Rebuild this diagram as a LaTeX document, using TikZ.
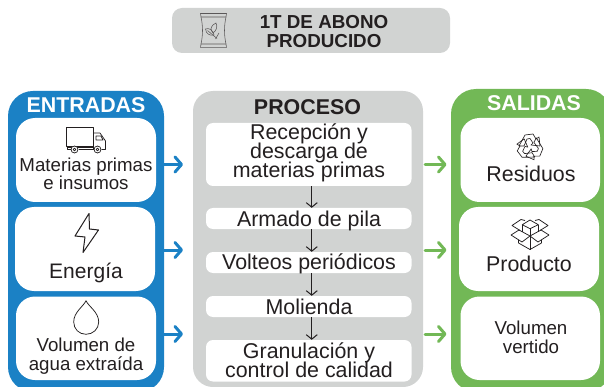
\documentclass[tikz,border=0pt]{standalone}
\usepackage{fontspec}
\setmainfont{Liberation Sans}
\usetikzlibrary{arrows.meta,fit}
\definecolor{ablue}{HTML}{1B81C5}
\definecolor{agreen}{HTML}{72B856}
\definecolor{agray}{HTML}{D1D3D2}
\definecolor{ink}{HTML}{231F20}
\newcommand\tightlines{\setlength{\lineskiplimit}{-20pt}}
\tikzset{
  x=1pt,y=-1pt,
  panelbox/.style={inner sep=0pt,draw=none,rounded corners=#1},
  whitebox/.style={inner sep=0pt,draw=none,fill=white,rounded corners=#1},
  big/.style={anchor=base,align=center,text=ink,inner sep=0pt,font={\tightlines\fontsize{21.4}{19}\selectfont}},
  mid/.style={anchor=base,align=center,text=ink,inner sep=0pt,font={\tightlines\fontsize{18.7}{18.5}\selectfont}},
  headw/.style={anchor=base,align=center,inner sep=0pt,font=\bfseries\fontsize{21.4}{20}\selectfont},
  topt/.style={anchor=base,align=center,text=ink,inner sep=0pt,font={\tightlines\bfseries\fontsize{18.8}{19}\selectfont}},
  blockarrow/.style={line width=3pt,line cap=round,-{Straight Barb[length=6.5pt,width=15pt,line width=3pt,round]}},
  steparrow/.style={line width=1pt,ink,-{Straight Barb[length=4.5pt,width=11pt,line width=1pt]}},
  icon/.style={draw=ink,line width=.75pt,line join=round},
}
\begin{document}
\begin{tikzpicture}
\useasboundingbox (0,0) rectangle (604,387);
\clip (0,0) rectangle (604,387);
% top banner
\node[panelbox=10pt,fill=agray,fit={(172,8)(450,53)}] (banner) {};
\node[topt] (bannertext) at (324,48) {1T DE ABONO\\PRODUCIDO};
% panels
\node[panelbox=25pt,fill=ablue,fit={(8,91)(164,392)}] (entradas) {};
\node[panelbox=20pt,fill=agray,fit={(193,91)(423,387)}] (proceso) {};
\node[panelbox=25pt,fill=agreen,fit={(451,89)(611,392)}] (salidas) {};
\node[headw,text=white] (enttitle) at (86,113) {ENTRADAS};
\node[headw,text=ink] (protitle) at (307.5,115) {PROCESO};
\node[headw,text=white] (saltitle) at (534,111) {SALIDAS};
% input boxes
\node[whitebox=19pt,fit={(16,118)(156,202)}] (in1) {};
\node[whitebox=19pt,fit={(15,207)(155,291)}] (in2) {};
\node[whitebox=19pt,fit={(16,296.5)(156,380)}] (in3) {};
\node[mid] (in1t) at (86,190) {Materias primas\\e insumos};
\node[big,font=\fontsize{21}{19}\selectfont] (in2t) at (86,278) {Energía};
\node[mid] (in3t) at (86,370) {Volumen de\\agua extraída};
% output boxes
\node[whitebox=19pt,fit={(460.5,118)(600,202)}] (out1) {};
\node[whitebox=19pt,fit={(459,207)(599,291)}] (out2) {};
\node[whitebox=19pt,fit={(460.5,296.5)(600,380)}] (out3) {};
\node[big] (out1t) at (531,182) {Residuos};
\node[big] (out2t) at (529,271) {Producto};
\node[mid] (out3t) at (531,353) {Volumen\\vertido};
% process boxes
\node[whitebox=7pt,fit={(206,123)(411.5,186)}] (p1) {};
\node[whitebox=7pt,fit={(206,208)(411.5,229)}] (p2) {};
\node[whitebox=7pt,fit={(206,252)(411.5,273)}] (p3) {};
\node[whitebox=7pt,fit={(206,296)(411.5,317)}] (p4) {};
\node[whitebox=7pt,fit={(206,340)(411.5,381.5)}] (p5) {};
\node[big] (p1t) at (309,178) {Recepción y\\descarga de\\materias primas};
\node[big] (p2t) at (309,226) {Armado de pila};
\node[big] (p3t) at (309,269) {Volteos periódicos};
\node[big] (p4t) at (309,314) {Molienda};
\node[big] (p5t) at (309,377) {Granulación y\\control de calidad};
% step arrows
\draw[steparrow] ([xshift=3pt]p1.south) -- ([xshift=3pt]p2.north);
\draw[steparrow] ([xshift=3pt]p2.south) -- ([xshift=3pt]p3.north);
\draw[steparrow] ([xshift=3pt]p3.south) -- ([xshift=3pt]p4.north);
\draw[steparrow] ([xshift=3pt]p4.south) -- ([xshift=3pt]p5.north);
% block arrows
\coordinate (bl1) at (183,164.5);
\coordinate (bl2) at (183,250);
\coordinate (bl3) at (183,334);
\coordinate (gl1s) at (425,164.5);
\coordinate (gl2s) at (425,250);
\coordinate (gl3s) at (425,334);
\coordinate (gl1) at (446.5,164.5);
\coordinate (gl2) at (446.5,250);
\coordinate (gl3) at (446.5,334);
\draw[blockarrow,ablue] (entradas.east |- bl1) -- (bl1);
\draw[blockarrow,ablue] (entradas.east |- bl2) -- (bl2);
\draw[blockarrow,ablue] (entradas.east |- bl3) -- (bl3);
\draw[blockarrow,agreen] (gl1s) -- (gl1);
\draw[blockarrow,agreen] (gl2s) -- (gl2);
\draw[blockarrow,agreen] (gl3s) -- (gl3);
% truck
\draw[icon] (66.5,127) rectangle (93,146);
\draw[icon] (93,133) -- (100,133) -- (105.5,141) -- (105.5,149.5) -- (101.5,149.5);
\draw[icon] (93,133) -- (93,149.5);
\draw[icon] (96,136) -- (101,136) -- (103,140) -- (96,140) -- cycle;
\draw[icon] (67,146) -- (67,149.5) -- (70.5,149.5) (78.5,149.5) -- (93.5,149.5);
\draw[icon] (66.5,147.8) -- (93,147.8);
\draw[icon,fill=white] (74.5,149.5) circle (3.5);
\draw[icon] (74.5,149.5) circle (1.3);
\draw[icon,fill=white] (97.5,149.5) circle (3.5);
\draw[icon] (97.5,149.5) circle (1.3);
% bolt
\draw[icon,line width=1pt] (89,213.5) -- (75,236) -- (85,237) -- (83,252.5) -- (98.5,230) -- (89.5,229) -- cycle;
% drop
\draw[icon] (86,300.7) .. controls (83.5,306.5) and (73.7,312) .. (73.7,322) .. controls (73.7,329) and (79,334.3) .. (86,334.3) .. controls (93,334.3) and (98.7,329) .. (98.7,322) .. controls (98.7,312) and (88.5,306.5) .. (86,300.7) -- cycle;
% recycle
\foreach \a in {0,120,240}{
  \draw[icon,line width=.65pt,shift={(530,147)},rotate=\a] (-11,-1) -- (-5,-12) -- (3,-13) -- (6,-8) -- (9,-10) -- (10,-1) -- (1,-2) -- (3,-4) -- (0,-8.5) -- (-3,-8) -- (-6,-1) -- cycle;
}
% open box
\draw[icon] (522.3,224.7) -- (530,220) -- (538.3,224.7) -- (530,228.7) -- cycle;
\draw[icon] (522.3,224.7) -- (522.3,232) (538.3,224.7) -- (538.3,232) (530,228.7) -- (530,236);
\draw[icon] (525,220.5) -- (521,219.5) -- (512,225.5) -- (520,230.5);
\draw[icon] (535,220.5) -- (539,219.5) -- (548,225.5) -- (540,230.5);
\draw[icon] (530,236) -- (519,230) -- (511,235) -- (522,242) -- cycle;
\draw[icon] (530,236) -- (541,230) -- (549,235) -- (538,242) -- cycle;
\draw[icon] (518.5,240) -- (518.5,243) -- (530,249.5) -- (541.5,243) -- (541.5,240);
\draw[icon] (530,236) -- (530,249.5);
% bag
\begin{scope}[draw=ink!75,line width=.55pt]
\draw (200.5,13.5) -- (226.5,13.5) -- (226,17) -- (201,17) -- cycle;
\draw (201,44) -- (226,44) -- (226.5,47.3) -- (200.5,47.3) -- cycle;
\draw (201,17) .. controls (203,26) and (203,35) .. (201,44);
\draw (226,17) .. controls (224,26) and (224,35) .. (226,44);
\draw (211,28.5) .. controls (212,25) and (214,24) .. (216,23) .. controls (218,27) and (216,31) .. (213,33) .. controls (212,32) and (211,30) .. (211,28.5) -- cycle;
\draw (205.5,29) .. controls (209,27.5) and (213,30) .. (214,35) .. controls (210,36) and (206,34) .. (205.5,29) -- cycle;
\draw (207.5,30.5) -- (217,38.5) (219,33) -- (215.5,39);
\end{scope}
\end{tikzpicture}
\end{document}
